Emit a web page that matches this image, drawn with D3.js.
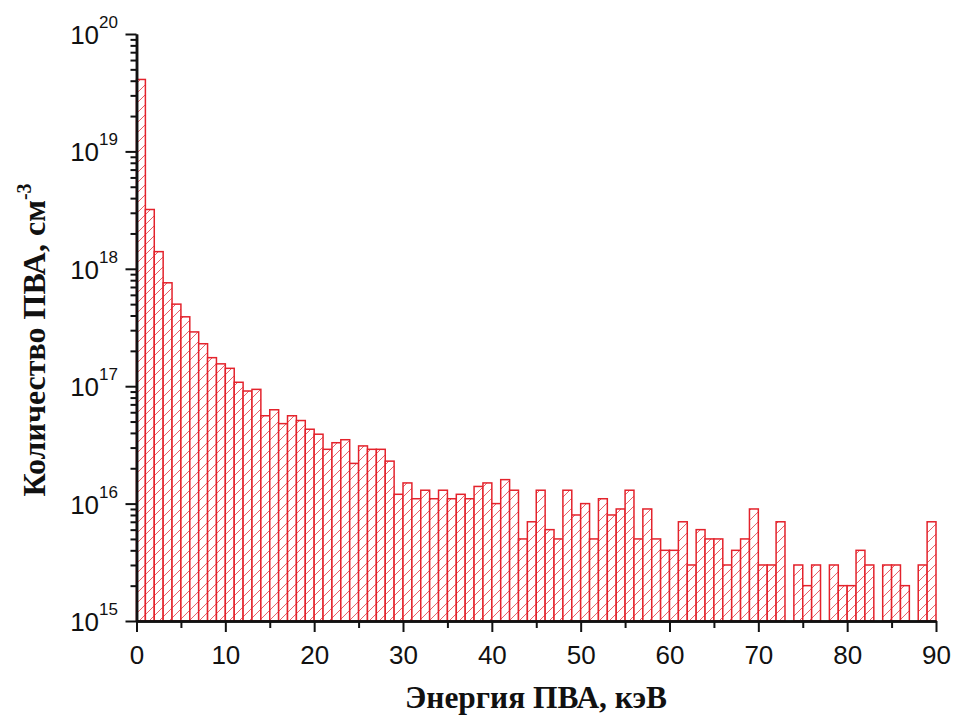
<!doctype html>
<html lang="ru">
<head>
<meta charset="utf-8">
<title>Энергия ПВА</title>
<script src="https://d3js.org/d3.v7.min.js"></script>
<style>
  body { margin: 0; background: #fff; }
  .tick-label { font-family: "Liberation Sans", Arial, sans-serif; fill: #111; }
  .axis-title { font-family: "Liberation Serif", "Times New Roman", serif; font-weight: bold; fill: #111; }
</style>
</head>
<body>
<svg id="chart" width="954" height="720"></svg>
<script>
// bin start energies, keV (bins are 1 keV wide)
var binStart = [0, 1, 2, 3, 4, 5, 6, 7, 8, 9,
  10, 11, 12, 13, 14, 15, 16, 17, 18, 19,
  20, 21, 22, 23, 24, 25, 26, 27, 28, 29,
  30, 31, 32, 33, 34, 35, 36, 37, 38, 39,
  40, 41, 42, 43, 44, 45, 46, 47, 48, 49,
  50, 51, 52, 53, 54, 55, 56, 57, 58, 59,
  60, 61, 62, 63, 64, 65, 66, 67, 68, 69,
  70, 71, 72, 73, 74, 75, 76, 77, 78, 79,
  80, 81, 82, 83, 84, 85, 86, 87, 88, 89];
var binWidth = 1;

// counts per bin, cm^-3 (0 = empty bin)
var counts = [4.1e19, 3.2e18, 1.4e18, 7.6e17, 5.0e17, 3.9e17, 2.9e17, 2.3e17, 1.75e17, 1.55e17,
  1.42e17, 1.08e17, 9.1e16, 9.4e16, 5.6e16, 6.3e16, 4.8e16, 5.6e16, 5.1e16, 4.3e16,
  3.9e16, 2.9e16, 3.3e16, 3.5e16, 2.2e16, 3.1e16, 2.9e16, 2.9e16, 2.3e16, 1.2e16,
  1.5e16, 1.1e16, 1.3e16, 1.1e16, 1.3e16, 1.1e16, 1.2e16, 1.1e16, 1.4e16, 1.5e16,
  1.0e16, 1.6e16, 1.3e16, 5e15, 7e15, 1.3e16, 6e15, 5e15, 1.3e16, 8e15,
  1.0e16, 5e15, 1.1e16, 8e15, 9e15, 1.3e16, 5e15, 9e15, 5e15, 4e15,
  4e15, 7e15, 3e15, 6e15, 5e15, 5e15, 3e15, 4e15, 5e15, 9e15,
  3e15, 3e15, 7e15, 0, 3e15, 2e15, 3e15, 0, 3e15, 2e15,
  2e15, 4e15, 3e15, 0, 3e15, 3e15, 2e15, 0, 3e15, 7e15];

var xTicks = [0, 10, 20, 30, 40, 50, 60, 70, 80, 90];
var xMinorTicks = [5, 15, 25, 35, 45, 55, 65, 75, 85];
var yExponents = [15, 16, 17, 18, 19, 20];
var xTitle = "Энергия ПВА, кэВ";
var yTitle = "Количество ПВА, см";
var yTitleSup = "-3";

var red = "#e3232c";
var plotLeft = 136.5, plotRight = 936, plotTop = 34, plotBottom = 621;

var svg = d3.select("#chart");

var x = d3.scaleLinear().domain([0, 90]).range([plotLeft, plotRight]);
var y = d3.scaleLog().domain([1e15, 1e20]).range([plotBottom, plotTop]);

// diagonal hatch fill
var pat = svg.append("defs").append("pattern")
  .attr("id", "hatch")
  .attr("patternUnits", "userSpaceOnUse")
  .attr("width", 10).attr("height", 10);
pat.append("rect").attr("width", 10).attr("height", 10).attr("fill", "#fff");
pat.append("path")
  .attr("d", "M0,10 L10,0 M-5,5 L5,-5 M5,15 L15,5")
  .attr("stroke", red).attr("stroke-width", 0.9).attr("stroke-opacity", 0.8);

var bars = binStart.map(function(e, i) { return {e: e, v: counts[i]}; })
  .filter(function(d) { return d.v > 0; });

svg.append("g").selectAll("rect")
  .data(bars)
  .enter().append("rect")
  .attr("x", function(d) { return x(d.e); })
  .attr("y", function(d) { return y(d.v); })
  .attr("width", function(d) { return x(d.e + binWidth) - x(d.e); })
  .attr("height", function(d) { return plotBottom - y(d.v); })
  .attr("fill", "url(#hatch)")
  .attr("stroke", red)
  .attr("stroke-width", 1.5);

// x axis: minor then major ticks
svg.append("g").attr("transform", "translate(0," + plotBottom + ")")
  .call(d3.axisBottom(x).tickValues(xMinorTicks).tickSize(7).tickSizeOuter(0).tickFormat(""));
var xMajor = svg.append("g").attr("transform", "translate(0," + plotBottom + ")")
  .call(d3.axisBottom(x).tickValues(xTicks).tickSize(11).tickSizeOuter(0).tickPadding(14));
xMajor.selectAll("text").attr("class", "tick-label").attr("font-size", 26).attr("fill", "#111");

// y axis: minor ticks 2..9 per decade, major at decades
var yMinorTicks = [];
yExponents.slice(0, -1).forEach(function(p) {
  for (var k = 2; k <= 9; k++) yMinorTicks.push(k * Math.pow(10, p));
});
svg.append("g").attr("transform", "translate(" + plotLeft + ",0)")
  .call(d3.axisLeft(y).tickValues(yMinorTicks).tickSize(6).tickSizeOuter(0).tickFormat(""));
svg.append("g").attr("transform", "translate(" + plotLeft + ",0)")
  .call(d3.axisLeft(y).tickValues(yExponents.map(function(p) { return Math.pow(10, p); }))
    .tickSize(11).tickSizeOuter(0).tickFormat(""));

svg.selectAll(".domain").attr("stroke", "#111").attr("stroke-width", 2.5);
svg.selectAll(".tick line").attr("stroke", "#111").attr("stroke-width", 2);

var yLab = svg.append("g").selectAll("text")
  .data(yExponents)
  .enter().append("text")
  .attr("class", "tick-label")
  .attr("text-anchor", "end")
  .attr("x", 118)
  .attr("y", function(p) { return y(Math.pow(10, p)) + 10; })
  .attr("font-size", 26);
yLab.append("tspan").text("10");
yLab.append("tspan").attr("dy", -16).attr("font-size", 17).text(function(p) { return p; });

// titles
svg.append("text")
  .attr("class", "axis-title")
  .attr("x", 536).attr("y", 708)
  .attr("text-anchor", "middle")
  .attr("font-size", 32)
  .attr("textLength", 262).attr("lengthAdjust", "spacingAndGlyphs")
  .text(xTitle);

var yt = svg.append("text")
  .attr("class", "axis-title")
  .attr("transform", "translate(45,340) rotate(-90)")
  .attr("text-anchor", "middle")
  .attr("font-size", 32);
yt.append("tspan").text(yTitle);
yt.append("tspan").attr("dy", -14).attr("font-size", 20).text(yTitleSup);
</script>
</body>
</html>
